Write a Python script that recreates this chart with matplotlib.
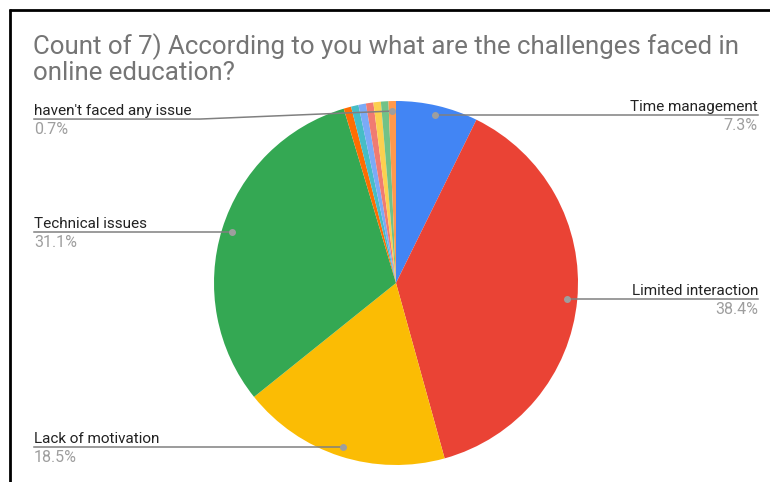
import matplotlib
matplotlib.use("Agg")
import matplotlib.pyplot as plt
import numpy as np

plt.rcParams['font.family'] = ['Roboto', 'DejaVu Sans']

title = "Count of 7) According to you what are the challenges faced in\nonline education?"
categories = ["Time management", "Limited interaction", "Lack of motivation",
              "Technical issues", "", "", "", "", "", "", "haven't faced any issue"]
counts = [11, 58, 28, 47, 1, 1, 1, 1, 1, 1, 1]
colors = ["#4285f4", "#ea4335", "#fbbc04", "#34a853", "#ff6d01", "#46bdc6",
          "#7baaf7", "#f07b72", "#fcd04f", "#71c287", "#ff994d"]

W, H = 770, 482
fig = plt.figure(figsize=(W / 100, H / 100), dpi=100)
ax = fig.add_axes([0, 0, 1, 1])

def py(y):
    return H - y

cx, cy, R = 396, 283, 182
wedges, _ = ax.pie(counts, colors=colors, startangle=90, counterclock=False,
                   center=(cx, py(cy)), radius=R, frame=True,
                   wedgeprops=dict(linewidth=0))
ax.set_xlim(0, W)
ax.set_ylim(0, H)
ax.set_aspect('auto')
ax.axis('off')

total = sum(counts)
label_side = {"Time management": "right", "Limited interaction": "right",
              "Lack of motivation": "left", "Technical issues": "left",
              "haven't faced any issue": "left"}
cum = 0
for name, c in zip(categories, counts):
    mid = (cum + c / 2) / total
    cum += c
    if not name:
        continue
    ang = np.deg2rad(90 - 360 * mid)
    dx = cx + 0.945 * R * np.cos(ang)
    dy_px = cy - 0.945 * R * np.sin(ang)
    pct = f"{100 * c / total:.1f}%"
    side = label_side[name]
    ax.plot([dx], [py(dy_px)], 'o', color="#9e9e9e", ms=4, zorder=5)
    if name == "haven't faced any issue":
        ly = dy_px + 8
        ax.plot([34, 200, dx], [py(ly), py(ly), py(dy_px)], color="#808080", lw=1.1, zorder=4)
    else:
        ly = dy_px
        if side == "right":
            ax.plot([dx, 758], [py(ly), py(ly)], color="#808080", lw=1.1, zorder=4)
        else:
            ax.plot([34, dx], [py(ly), py(ly)], color="#808080", lw=1.1, zorder=4)
    if side == "right":
        tx, ha = 758, 'right'
    else:
        tx, ha = 34, 'left'
    ax.text(tx, py(ly - 4), name, ha=ha, va='baseline', fontsize=11, color="#222222")
    ax.text(tx, py(ly + 15), pct, ha=ha, va='baseline', fontsize=11.5, color="#9e9e9e")

# title
ax.text(33, py(54), title.split("\n")[0], ha='left', va='baseline', fontsize=18.6, color="#757575")
ax.text(33, py(80), title.split("\n")[1], ha='left', va='baseline', fontsize=18.6, color="#757575")

# frame lines (left and top)
ax.plot([10, 10], [py(9), py(H + 5)], color="black", lw=2, clip_on=False, solid_capstyle='butt')
ax.plot([9, W + 5], [py(10), py(10)], color="black", lw=2, clip_on=False, solid_capstyle='butt')

fig.savefig("out.png", dpi=100)
